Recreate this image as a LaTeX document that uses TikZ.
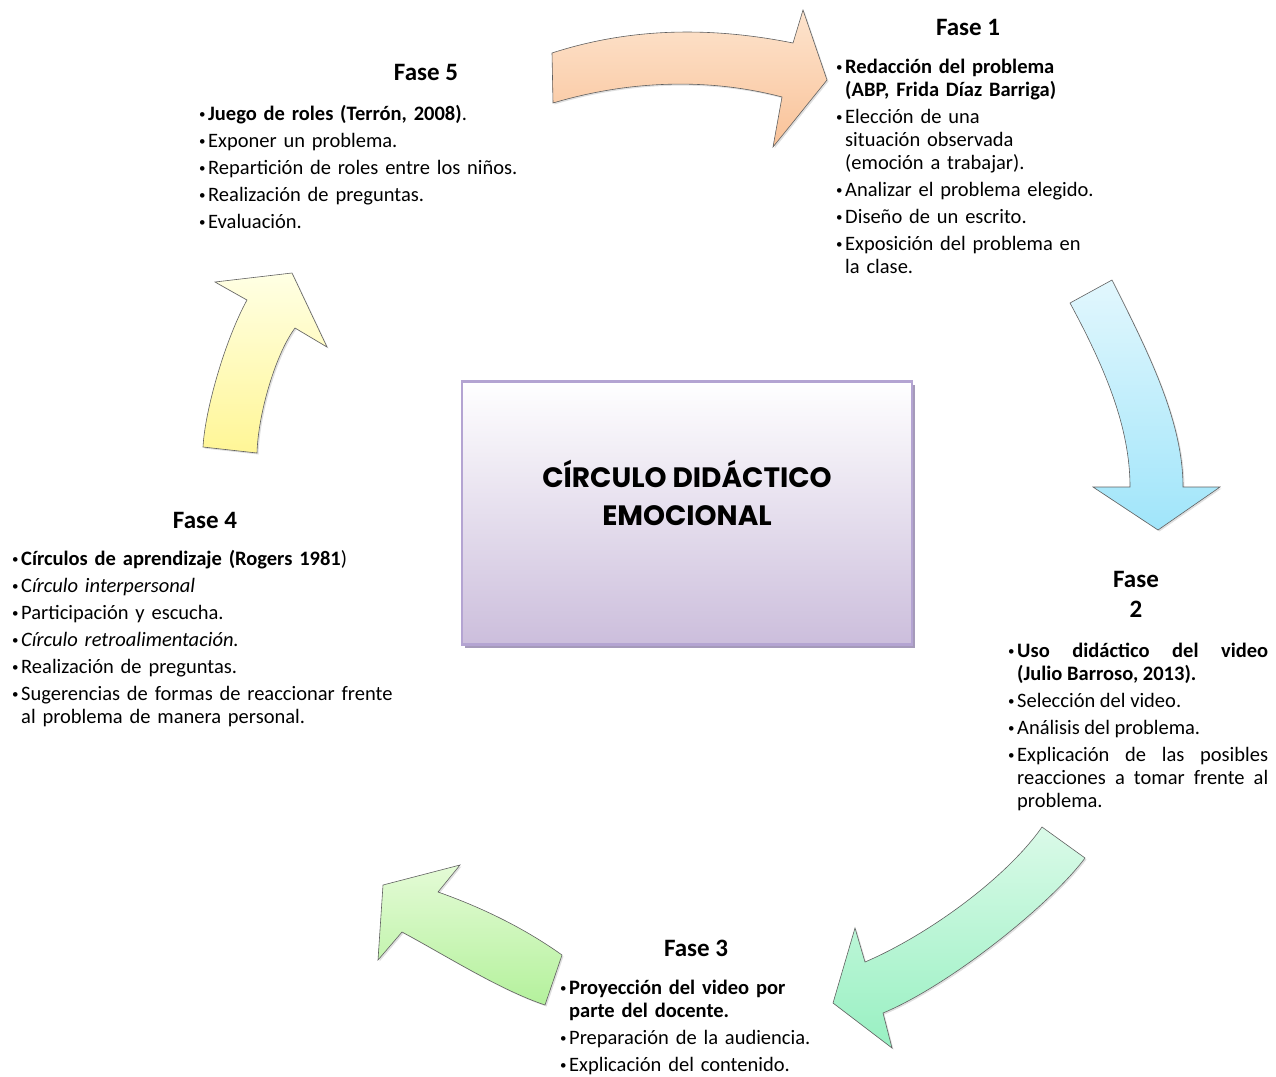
\documentclass[tikz,border=0pt]{standalone}
\usepackage{fontspec}
\setmainfont{Carlito}
\newfontfamily\gotica{Poppins}
\usetikzlibrary{shadows,positioning}

\definecolor{naranjaA}{RGB}{253,228,206}
\definecolor{naranjaB}{RGB}{249,194,152}
\definecolor{azulA}{RGB}{226,247,253}
\definecolor{azulB}{RGB}{160,229,250}
\definecolor{mentaA}{RGB}{218,250,232}
\definecolor{mentaB}{RGB}{152,240,194}
\definecolor{verdeA}{RGB}{228,251,214}
\definecolor{verdeB}{RGB}{180,241,156}
\definecolor{amarilloA}{RGB}{255,255,228}
\definecolor{amarilloB}{RGB}{255,246,150}
\definecolor{lila}{RGB}{180,164,210}
\definecolor{lilaB}{RGB}{204,190,220}
\definecolor{lilaS}{RGB}{165,154,186}

\newcommand{\punto}{\par\noindent\hangindent=9pt\hangafter=1\strut\makebox[9pt][l]{\raisebox{2pt}{\fontsize{13}{13}\selectfont•}}}

\begin{document}
\begin{tikzpicture}[x=1pt,y=-1pt,
  flecha/.style={draw=gray!75!black, line width=0.6pt, drop shadow={opacity=0.25,shadow xshift=1.5pt,shadow yshift=-1.5pt}},
  caja/.style={draw=lila, line width=2.5pt, minimum width=450pt, minimum height=263pt, top color=white, bottom color=lilaB, drop shadow={shadow xshift=3pt,shadow yshift=-3pt,opacity=1,fill=lilaS}},
  titulo/.style={font=\fontsize{25}{30}\selectfont\bfseries, inner sep=0pt},
  lista/.style={font=\fontsize{20.5}{23}\selectfont, inner sep=0pt, anchor=north west, align=left, execute at begin node={\setlength{\parskip}{4pt}}}]
\useasboundingbox (0,0) rectangle (1276,1076);

% arrows
\draw[flecha, top color=naranjaA, bottom color=naranjaB] (552,53) .. controls (632,27) and (713,27) .. (793,43) -- (803,10) -- (827,80) -- (773,147) -- (782,97) .. controls (710,78) and (630,80) .. (553,103) -- cycle; %5->1
\draw[flecha, top color=azulA, bottom color=azulB] (1070,303) -- (1112,280) .. controls (1147,350) and (1183,420) .. (1183,487) -- (1220,487) -- (1158,530) -- (1093,487) -- (1130,487) .. controls (1130,427) and (1105,368) .. (1070,303) -- cycle; %1->2
\draw[flecha, top color=mentaA, bottom color=mentaB] (1042,827) -- (1085,858) .. controls (1050,905) and (950,985) .. (883,1013) -- (892,1048) -- (833,1003) -- (855,928) -- (865,962) .. controls (930,934) and (1007,877) .. (1042,827) -- cycle; %2->3
\draw[flecha, top color=verdeA, bottom color=verdeB] (545,1005) -- (562,955) .. controls (520,925) and (475,905) .. (438,892) -- (460,865) -- (383,885) -- (378,960) -- (402,932) .. controls (445,955) and (500,990) .. (545,1005) -- cycle; %3->4
\draw[flecha, top color=amarilloA, bottom color=amarilloB] (203,447) .. controls (205,410) and (225,340) .. (247,300) -- (215,282) -- (292,273) -- (327,347) -- (295,328) .. controls (275,355) and (258,415) .. (257,453) -- cycle; %4->5

% center
\node[caja] (caja) at (687,513) {};
\node[font=\gotica\bfseries\fontsize{28}{38}\selectfont, align=center] (nombre) at ([yshift=20pt]caja.center) {CÍRCULO DIDÁCTICO\\EMOCIONAL};

% fase 1
\node[titulo] (t1) at (968,27) {Fase 1};
\node[lista, text width=300pt] (f1) at (836,46) {\punto\textbf{Redacción del problema\newline(ABP, Frida Díaz Barriga)}
  \punto Elección de una\newline situación observada\newline (emoción a trabajar).
  \punto Analizar el problema elegido.
  \punto Diseño de un escrito.
  \punto Exposición del problema en\newline la clase.\par};

% fase 2
\node[titulo, align=center] (t2) at (1136,594) {Fase\\2};
\node[lista, align=justify, text width=260pt] (f2) at (1008,630) {\punto\textbf{Uso\hfill didáctico\hfill del\hfill video\newline(Julio Barroso, 2013).}
  \punto Selección del video.
  \punto Análisis del problema.
  \punto Explicación\hfill de\hfill las\hfill posibles\newline reacciones\hfill a\hfill tomar\hfill frente\hfill al\newline problema.\par};

% fase 3
\node[titulo] (t3) at (696,948) {Fase 3};
\node[lista, text width=280pt] (f3) at (560,967) {\punto\textbf{Proyección del video por\newline parte del docente.}
  \punto Preparación de la audiencia.
  \punto Explicación del contenido.\par};

% fase 4
\node[titulo] (t4) at (205,520) {Fase 4};
\node[lista, text width=420pt] (f4) at (12,538) {\punto\textbf{Círculos de aprendizaje (Rogers 1981})
  \punto C\textit{írculo interpersonal}
  \punto Participación y escucha.
  \punto \textit{Círculo retroalimentación.}
  \punto Realización de preguntas.
  \punto Sugerencias de formas de reaccionar frente\newline al problema de manera personal.\par};

% fase 5
\node[titulo] (t5) at (426,72) {Fase 5};
\node[lista, text width=360pt] (f5) at (199,93) {\punto\textbf{Juego de roles (Terrón, 2008)}.
  \punto Exponer un problema.
  \punto Repartición de roles entre los niños.
  \punto Realización de preguntas.
  \punto Evaluación.\par};
\end{tikzpicture}
\end{document}
